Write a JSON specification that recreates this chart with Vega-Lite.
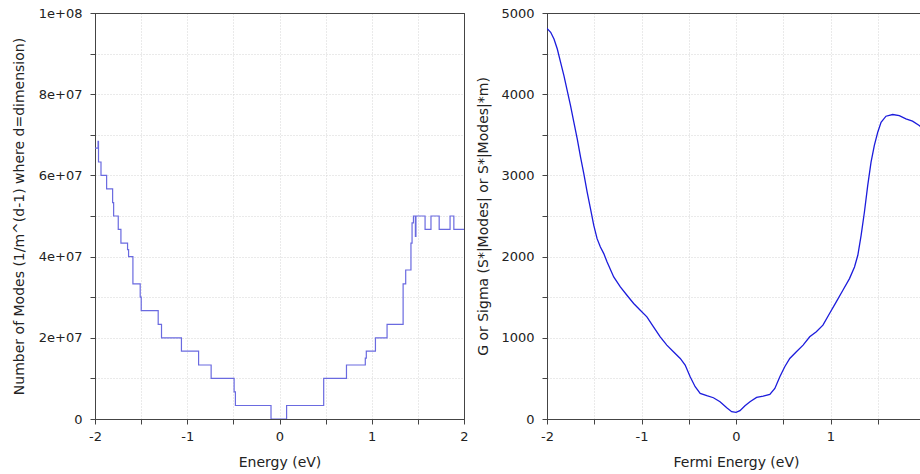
{
  "$schema": "https://vega.github.io/schema/vega-lite/v6.json",
  "padding": {"left": 11, "top": 6, "right": 0, "bottom": 0},
  "spacing": 7,
  "background": "white",
  "config": {
    "font": "DejaVu Sans",
    "view": {"stroke": "#444", "strokeWidth": 1},
    "axis": {
      "labelFont": "DejaVu Sans",
      "titleFont": "DejaVu Sans",
      "labelFontSize": 13,
      "titleFontSize": 14,
      "titleFontWeight": "normal",
      "labelColor": "#222",
      "titleColor": "#222",
      "domainColor": "#444",
      "tickColor": "#444",
      "tickSize": 5,
      "gridWidth": 1,
      "labelFlush": false,
      "labelOverlap": false
    }
  },
  "datasets": {
    "modes": [
      {"energy": -2.0, "modes": 6.67e7},
      {"energy": -1.967, "modes": 6.84e7},
      {"energy": -1.962, "modes": 6.33e7},
      {"energy": -1.935, "modes": 6.0e7},
      {"energy": -1.874, "modes": 5.67e7},
      {"energy": -1.809, "modes": 5.33e7},
      {"energy": -1.798, "modes": 5.0e7},
      {"energy": -1.748, "modes": 4.67e7},
      {"energy": -1.719, "modes": 4.33e7},
      {"energy": -1.647, "modes": 4.17e7},
      {"energy": -1.636, "modes": 4.0e7},
      {"energy": -1.589, "modes": 3.33e7},
      {"energy": -1.51, "modes": 3.0e7},
      {"energy": -1.499, "modes": 2.67e7},
      {"energy": -1.315, "modes": 2.33e7},
      {"energy": -1.279, "modes": 2.0e7},
      {"energy": -1.063, "modes": 1.67e7},
      {"energy": -0.877, "modes": 1.33e7},
      {"energy": -0.741, "modes": 1.0e7},
      {"energy": -0.492, "modes": 6.7e6},
      {"energy": -0.478, "modes": 3.33e6},
      {"energy": -0.092, "modes": 0},
      {"energy": 0.077, "modes": 3.33e6},
      {"energy": 0.479, "modes": 1.0e7},
      {"energy": 0.726, "modes": 1.33e7},
      {"energy": 0.93, "modes": 1.5e7},
      {"energy": 0.941, "modes": 1.67e7},
      {"energy": 1.04, "modes": 2.0e7},
      {"energy": 1.166, "modes": 2.33e7},
      {"energy": 1.34, "modes": 3.33e7},
      {"energy": 1.368, "modes": 3.67e7},
      {"energy": 1.425, "modes": 4.33e7},
      {"energy": 1.437, "modes": 4.83e7},
      {"energy": 1.452, "modes": 5.0e7},
      {"energy": 1.473, "modes": 4.5e7},
      {"energy": 1.479, "modes": 5.0e7},
      {"energy": 1.578, "modes": 4.67e7},
      {"energy": 1.642, "modes": 5.0e7},
      {"energy": 1.731, "modes": 4.67e7},
      {"energy": 1.849, "modes": 5.0e7},
      {"energy": 1.89, "modes": 4.67e7},
      {"energy": 2.0, "modes": 4.67e7}
    ],
    "sigma": [
      {"fermi": -2.0, "g": 4811},
      {"fermi": -1.961, "g": 4762},
      {"fermi": -1.926, "g": 4680},
      {"fermi": -1.891, "g": 4557},
      {"fermi": -1.856, "g": 4393},
      {"fermi": -1.821, "g": 4229},
      {"fermi": -1.786, "g": 4045},
      {"fermi": -1.751, "g": 3860},
      {"fermi": -1.716, "g": 3655},
      {"fermi": -1.68, "g": 3450},
      {"fermi": -1.645, "g": 3225},
      {"fermi": -1.61, "g": 3020},
      {"fermi": -1.575, "g": 2795},
      {"fermi": -1.54, "g": 2590},
      {"fermi": -1.505, "g": 2385},
      {"fermi": -1.47, "g": 2221},
      {"fermi": -1.435, "g": 2119},
      {"fermi": -1.399, "g": 2037},
      {"fermi": -1.364, "g": 1934},
      {"fermi": -1.294, "g": 1750},
      {"fermi": -1.224, "g": 1627},
      {"fermi": -1.154, "g": 1524},
      {"fermi": -1.083, "g": 1422},
      {"fermi": -1.013, "g": 1340},
      {"fermi": -0.943, "g": 1258},
      {"fermi": -0.873, "g": 1135},
      {"fermi": -0.802, "g": 1012},
      {"fermi": -0.732, "g": 910},
      {"fermi": -0.662, "g": 828},
      {"fermi": -0.59, "g": 746},
      {"fermi": -0.538, "g": 664},
      {"fermi": -0.485, "g": 520},
      {"fermi": -0.432, "g": 397},
      {"fermi": -0.379, "g": 316},
      {"fermi": -0.309, "g": 287},
      {"fermi": -0.239, "g": 262},
      {"fermi": -0.169, "g": 213},
      {"fermi": -0.098, "g": 139},
      {"fermi": -0.046, "g": 90},
      {"fermi": 0.0, "g": 82},
      {"fermi": 0.042, "g": 102},
      {"fermi": 0.095, "g": 164},
      {"fermi": 0.148, "g": 213},
      {"fermi": 0.218, "g": 266},
      {"fermi": 0.288, "g": 283},
      {"fermi": 0.358, "g": 303},
      {"fermi": 0.411, "g": 377},
      {"fermi": 0.464, "g": 520},
      {"fermi": 0.516, "g": 643},
      {"fermi": 0.569, "g": 746},
      {"fermi": 0.639, "g": 828},
      {"fermi": 0.71, "g": 910},
      {"fermi": 0.78, "g": 1012},
      {"fermi": 0.85, "g": 1074},
      {"fermi": 0.92, "g": 1156},
      {"fermi": 0.99, "g": 1299},
      {"fermi": 1.061, "g": 1443},
      {"fermi": 1.131, "g": 1586},
      {"fermi": 1.201, "g": 1729},
      {"fermi": 1.254, "g": 1873},
      {"fermi": 1.289, "g": 2016},
      {"fermi": 1.324, "g": 2262},
      {"fermi": 1.359, "g": 2549},
      {"fermi": 1.394, "g": 2877},
      {"fermi": 1.429, "g": 3164},
      {"fermi": 1.464, "g": 3369},
      {"fermi": 1.5, "g": 3532},
      {"fermi": 1.535, "g": 3655},
      {"fermi": 1.587, "g": 3729},
      {"fermi": 1.658, "g": 3750},
      {"fermi": 1.728, "g": 3737},
      {"fermi": 1.798, "g": 3696},
      {"fermi": 1.868, "g": 3668},
      {"fermi": 1.939, "g": 3614},
      {"fermi": 2.0, "g": 3560}
    ]
  },
  "hconcat": [
    {
      "width": 369,
      "height": 406,
      "data": {"name": "modes"},
      "mark": {"type": "line", "interpolate": "step-after", "color": "#6a6ae0", "strokeWidth": 1.2, "clip": true},
      "encoding": {
        "x": {
          "field": "energy", "type": "quantitative",
          "scale": {"domain": [-2, 2], "nice": false, "zero": false},
          "axis": {
            "title": "Energy (eV)",
            "values": [-2, -1.5, -1, -0.5, 0, 0.5, 1, 1.5, 2],
            "labelExpr": "datum.value % 1 == 0 ? '' + datum.value : ''",
            "labelPadding": 6,
            "titlePadding": 12,
            "gridColor": {"condition": {"test": "abs(datum.value) == 2", "value": "#444"}, "value": "#d4d4d4"},
            "gridDash": {"condition": {"test": "abs(datum.value) == 2", "value": []}, "value": [1, 2]}
          }
        },
        "y": {
          "field": "modes", "type": "quantitative",
          "scale": {"domain": [0, 100000000], "nice": false},
          "axis": {
            "title": "Number of Modes (1/m^(d-1) where d=dimension)",
            "values": [0, 10000000, 20000000, 30000000, 40000000, 50000000, 60000000, 70000000, 80000000, 90000000, 100000000],
            "labelExpr": "datum.value == 0 ? '0' : (datum.value % 20000000 != 0 ? '' : (datum.value >= 100000000 ? '1e+08' : (datum.value / 10000000) + 'e+07'))",
            "labelPadding": 8,
            "titlePadding": 12,
            "gridColor": {"condition": {"test": "datum.value >= 100000000 || datum.value == 0", "value": "#444"}, "value": "#d4d4d4"},
            "gridDash": {"condition": {"test": "datum.value >= 100000000 || datum.value == 0", "value": []}, "value": [1, 2]}
          }
        }
      }
    },
    {
      "width": 378,
      "height": 406,
      "data": {"name": "sigma"},
      "mark": {"type": "line", "color": "#1c1cdc", "strokeWidth": 1.3, "clip": true},
      "encoding": {
        "x": {
          "field": "fermi", "type": "quantitative",
          "scale": {"domain": [-2, 2], "nice": false, "zero": false},
          "axis": {
            "title": "Fermi Energy (eV)",
            "values": [-2, -1.5, -1, -0.5, 0, 0.5, 1, 1.5, 2],
            "labelExpr": "datum.value % 1 == 0 && datum.value < 2 ? '' + datum.value : ''",
            "labelPadding": 6,
            "titlePadding": 12,
            "gridColor": {"condition": {"test": "abs(datum.value) == 2", "value": "#444"}, "value": "#d4d4d4"},
            "gridDash": {"condition": {"test": "abs(datum.value) == 2", "value": []}, "value": [1, 2]}
          }
        },
        "y": {
          "field": "g", "type": "quantitative",
          "scale": {"domain": [0, 5000], "nice": false},
          "axis": {
            "title": "G or Sigma (S*|Modes| or S*|Modes|*m)",
            "values": [0, 500, 1000, 1500, 2000, 2500, 3000, 3500, 4000, 4500, 5000],
            "format": "d",
            "labelExpr": "datum.value % 1000 == 0 ? datum.label : ''",
            "labelPadding": 8,
            "titlePadding": 10,
            "gridColor": {"condition": {"test": "datum.value >= 5000 || datum.value == 0", "value": "#444"}, "value": "#d4d4d4"},
            "gridDash": {"condition": {"test": "datum.value >= 5000 || datum.value == 0", "value": []}, "value": [1, 2]}
          }
        }
      }
    }
  ]
}
